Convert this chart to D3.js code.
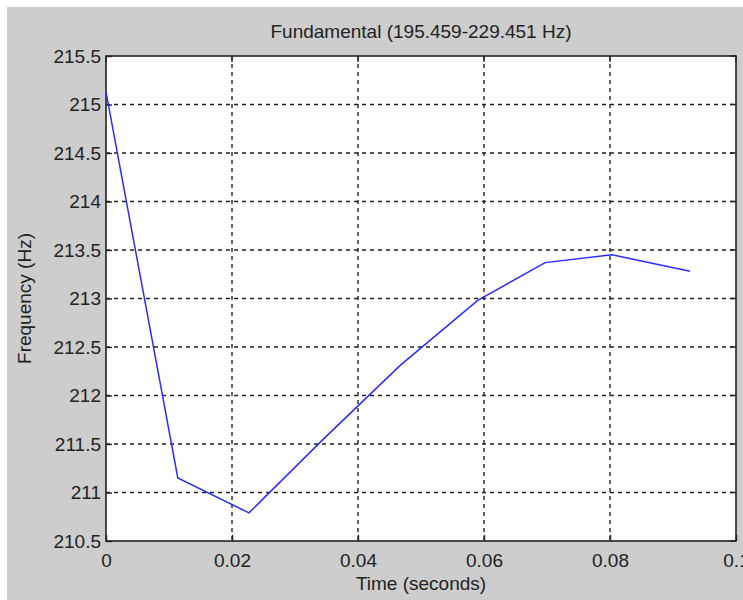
<!DOCTYPE html>
<html>
<head>
<meta charset="utf-8">
<script src="https://cdn.jsdelivr.net/npm/d3@7"></script>
<style>
  body { margin: 0; background: #fff; }
  text { font-family: "Liberation Sans", Arial, sans-serif; fill: #222; }
</style>
</head>
<body>
<svg width="743" height="600"></svg>
<script>
// time (s) and fundamental frequency (Hz)
var times = [0, 0.0114, 0.0227, 0.0345, 0.0467, 0.059, 0.0697, 0.0803, 0.0927];
var freqs = [215.13, 211.15, 210.79, 211.55, 212.31, 212.98, 213.37, 213.45, 213.28];

var xTicks = [0, 0.02, 0.04, 0.06, 0.08, 0.1];
var yTicks = [210.5, 211, 211.5, 212, 212.5, 213, 213.5, 214, 214.5, 215, 215.5];
var xTickLabels = ["0", "0.02", "0.04", "0.06", "0.08", "0.1"];

var svg = d3.select("svg"),
    width = +svg.attr("width"),
    height = +svg.attr("height");

var m = {left: 106, right: 736, top: 56, bottom: 541};

// grey figure background
svg.append("rect")
    .attr("x", 7).attr("y", 7)
    .attr("width", width - 7).attr("height", height - 7)
    .attr("fill", "#cdcdcd");

var x = d3.scaleLinear().domain([0, 0.1]).range([m.left, m.right]);
var y = d3.scaleLinear().domain([210.5, 215.5]).range([m.bottom, m.top]);

svg.append("rect")
    .attr("x", m.left).attr("y", m.top)
    .attr("width", m.right - m.left).attr("height", m.bottom - m.top)
    .attr("fill", "#fff");

// dashed grid
svg.append("g")
  .selectAll("line")
  .data(xTicks.slice(1, -1))
  .enter().append("line")
    .attr("x1", d => x(d)).attr("x2", d => x(d))
    .attr("y1", m.top).attr("y2", m.bottom)
    .attr("stroke", "#222").attr("stroke-width", 1.4)
    .attr("stroke-dasharray", "4,4");

svg.append("g")
  .selectAll("line")
  .data(yTicks.slice(1, -1))
  .enter().append("line")
    .attr("x1", m.left).attr("x2", m.right)
    .attr("y1", d => y(d)).attr("y2", d => y(d))
    .attr("stroke", "#222").attr("stroke-width", 1.4)
    .attr("stroke-dasharray", "4,4");

// axes with inward ticks
var xAxis = svg.append("g")
    .attr("transform", "translate(0," + m.bottom + ")")
    .call(d3.axisBottom(x).tickValues(xTicks).tickSizeInner(-6).tickSizeOuter(0)
      .tickFormat((d, i) => xTickLabels[i]));
xAxis.selectAll("text").attr("dy", null).attr("y", 26).style("font-size", "19px");

var yAxis = svg.append("g")
    .attr("transform", "translate(" + m.left + ",0)")
    .call(d3.axisLeft(y).tickValues(yTicks).tickSizeInner(-6).tickSizeOuter(0)
      .tickFormat(d3.format("")));
yAxis.selectAll("text").attr("x", -5).style("font-size", "19px");

svg.selectAll(".domain").remove();
svg.selectAll(".tick line").attr("stroke", "#222").attr("stroke-width", 1.4);

// top/right ticks
svg.append("g").selectAll("line").data(xTicks).enter().append("line")
    .attr("x1", d => x(d)).attr("x2", d => x(d))
    .attr("y1", m.top).attr("y2", m.top + 6)
    .attr("stroke", "#222").attr("stroke-width", 1.4);
svg.append("g").selectAll("line").data(yTicks).enter().append("line")
    .attr("x1", m.right - 6).attr("x2", m.right)
    .attr("y1", d => y(d)).attr("y2", d => y(d))
    .attr("stroke", "#222").attr("stroke-width", 1.4);

svg.append("rect")
    .attr("x", m.left).attr("y", m.top)
    .attr("width", m.right - m.left).attr("height", m.bottom - m.top)
    .attr("fill", "none").attr("stroke", "#222").attr("stroke-width", 1.6);

// frequency line
var line = d3.line()
    .x((d, i) => x(times[i]))
    .y(d => y(d));

svg.append("path")
    .datum(freqs)
    .attr("fill", "none")
    .attr("stroke", "#2b2bff")
    .attr("stroke-width", 1.5)
    .attr("d", line);

// labels
svg.append("text")
    .attr("x", (m.left + m.right) / 2).attr("y", 38)
    .attr("text-anchor", "middle")
    .style("font-size", "19px")
    .text("Fundamental (195.459-229.451 Hz)");

svg.append("text")
    .attr("x", (m.left + m.right) / 2).attr("y", 590)
    .attr("text-anchor", "middle")
    .style("font-size", "19px")
    .text("Time (seconds)");

svg.append("text")
    .attr("transform", "translate(31," + ((m.top + m.bottom) / 2) + ") rotate(-90)")
    .attr("text-anchor", "middle")
    .style("font-size", "19px")
    .text("Frequency (Hz)");
</script>
</body>
</html>
